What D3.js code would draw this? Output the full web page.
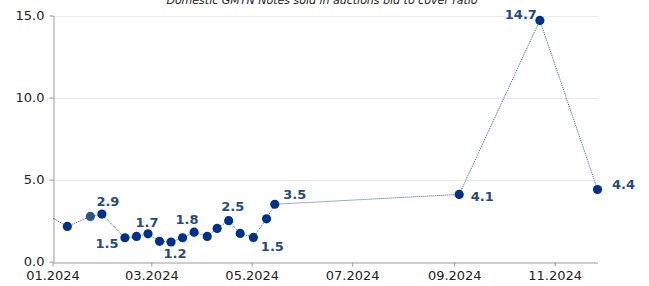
<!DOCTYPE html>
<html><head><meta charset="utf-8">
<script src="https://cdn.jsdelivr.net/npm/d3@7"></script>
<style>body{margin:0;background:#fff}svg{display:block}</style>
</head><body>
<svg id="c" width="649" height="286"></svg>
<script>
const title = "Domestic GMTN Notes sold in auctions bid to cover ratio";
const dates = ["2023-12-27","2024-01-10","2024-01-24","2024-01-31","2024-02-14","2024-02-21","2024-02-28","2024-03-06","2024-03-13","2024-03-20","2024-03-27","2024-04-04","2024-04-10","2024-04-17","2024-04-24","2024-05-02","2024-05-10","2024-05-15","2024-09-04","2024-10-23","2024-11-27"];
const values = [2.95,2.15,2.76,2.9,1.46,1.54,1.7,1.24,1.2,1.46,1.8,1.54,2.03,2.5,1.72,1.48,2.61,3.5,4.1,14.7,4.4];
const labelled = [3,4,6,8,10,13,15,17,18,19,20];
const yTicks = [0,5,10,15];
const xTicks = ["2024-01-01","2024-03-01","2024-05-01","2024-07-01","2024-09-01","2024-11-01"];
const xDomain = ["2024-01-01","2024-11-27"];

// label placement (styling)
const labelOffset = {3:[6,-13],4:[-18,6],6:[-1,-11],8:[4,11],10:[-7,-13],13:[4,-14],15:[19,9],17:[20,-10],18:[23,2],19:[-19,-6],20:[26,-5]};

const parse = d3.timeParse("%Y-%m-%d");
const data = dates.map((d,i)=>({date:parse(d), v:values[i], i}));

const svg = d3.select("#c");
const m = {l:52.5, r:597.5, t:15.5, b:261.7};
const x = d3.scaleTime().domain(xDomain.map(parse)).range([m.l, m.r]);
const y = d3.scaleLinear().domain([0,15]).range([m.b, m.t]);

const font = "'DejaVu Sans', Verdana, sans-serif";

svg.append("text").attr("x", 322).attr("y", 3.5).attr("text-anchor","middle")
  .attr("font-family", font).attr("font-size", 11).attr("font-style","italic").attr("fill","#222").text(title);

// grid
svg.append("g").selectAll("line").data(yTicks.filter(t=>t>0)).join("line")
  .attr("x1", m.l).attr("x2", m.r).attr("y1", d=>Math.round(y(d))+0.5).attr("y2", d=>Math.round(y(d))+0.5)
  .attr("stroke","#d4d4d4").attr("stroke-width",1).attr("stroke-dasharray","1,1");

// y axis
const ya = svg.append("g").attr("transform",`translate(${Math.round(m.l)+0.5},0)`)
  .call(d3.axisLeft(y).tickValues(yTicks).tickFormat(d3.format(".1f")).tickSize(4).tickPadding(5).tickSizeOuter(0));
ya.selectAll("text").attr("font-family", font).attr("font-size", 13).attr("fill","#222");
ya.selectAll("line").attr("stroke","#999");
ya.select(".domain").attr("stroke","#999");

// x axis
const xa = svg.append("g").attr("transform",`translate(0,${Math.round(m.b)+0.5})`)
  .call(d3.axisBottom(x).tickValues(xTicks.map(parse)).tickFormat(d3.timeFormat("%m.%Y")).tickSize(4).tickPadding(4).tickSizeOuter(0));
xa.selectAll("text").attr("font-family", font).attr("font-size", 13).attr("fill","#222");
xa.selectAll("line").attr("stroke","#999");
xa.select(".domain").attr("stroke","#999");

// clip
svg.append("clipPath").attr("id","clip").append("rect")
  .attr("x", m.l).attr("y", 0).attr("width", 649-m.l).attr("height", 286);

const line = d3.line().x(d=>x(d.date)).y(d=>y(d.v));
svg.append("path").datum(data).attr("clip-path","url(#clip)")
  .attr("d", line).attr("fill","none").attr("stroke","#2f5c9e").attr("stroke-width",1)
  .attr("stroke-dasharray","1,1");

svg.append("g").selectAll("circle").data(data.filter(d=>d.date>=parse(xDomain[0]))).join("circle")
  .attr("cx", d=>x(d.date)).attr("cy", d=>y(d.v)).attr("r", 4.6)
  .attr("fill", d=>d.i===2 ? "#2d5687" : "#00318a");

svg.append("g").selectAll("text").data(labelled.map(i=>data[i])).join("text")
  .attr("x", d=>x(d.date)+labelOffset[d.i][0]).attr("y", d=>y(d.v)+labelOffset[d.i][1])
  .attr("dy","0.36em").attr("text-anchor","middle")
  .attr("font-family", font).attr("font-size", 13).attr("font-weight","bold").attr("fill","#284b7d")
  .text(d=>d3.format(".1f")(d.v));
</script>
</body></html>
